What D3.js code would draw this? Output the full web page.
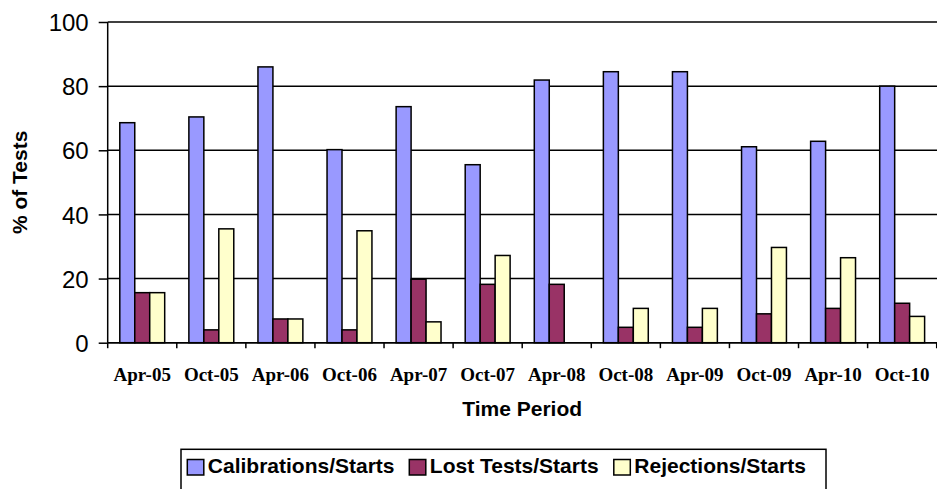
<!DOCTYPE html>
<html>
<head>
<meta charset="utf-8">
<script src="https://cdn.jsdelivr.net/npm/d3@7/dist/d3.min.js"></script>
<style>
  html, body { margin: 0; padding: 0; background: #fff; }
  svg { display: block; }
</style>
</head>
<body>
<svg id="chart" width="937" height="489"></svg>
<script>
const categories = ["Apr-05","Oct-05","Apr-06","Oct-06","Apr-07","Oct-07","Apr-08","Oct-08","Apr-09","Oct-09","Apr-10","Oct-10"];
const seriesNames = ["Calibrations/Starts","Lost Tests/Starts","Rejections/Starts"];
const calibrations = [68.6, 70.4, 86.0, 60.2, 73.6, 55.5, 81.9, 84.5, 84.5, 61.1, 62.8, 80.0];
const lostTests    = [15.6, 4.0, 7.4, 4.0, 19.8, 18.2, 18.2, 4.8, 4.8, 9.0, 10.7, 12.3];
const rejections   = [15.6, 35.5, 7.4, 34.9, 6.5, 27.2, 0, 10.7, 10.7, 29.7, 26.5, 8.2];
const yTicks = [0, 20, 40, 60, 80, 100];
const colors = ["#9999FF", "#993366", "#FFFFCC"];

const seriesValues = [calibrations, lostTests, rejections];

(function () {
const svg = d3.select("#chart");
const pLeft = 107.7, pRight = 936.7, pTop = 22, pBottom = 342.7;

const y = d3.scaleLinear().domain([0, 100]).range([pBottom, pTop]);
const x0 = d3.scaleBand().domain(categories).range([pLeft, pRight]).paddingInner(0.35).paddingOuter(0.175);
const x1 = d3.scaleBand().domain(seriesNames).range([0, x0.bandwidth()]);
const xEdge = d3.scaleLinear().domain([0, categories.length]).range([pLeft, pRight]);

// gridlines
svg.append("g").selectAll("line").data(yTicks).join("line")
  .attr("x1", pLeft).attr("x2", 937)
  .attr("y1", d => y(d)).attr("y2", d => y(d))
  .attr("stroke", "#000").attr("stroke-width", 1.5);

// bars
const groups = svg.append("g").selectAll("g").data(categories).join("g")
  .attr("transform", d => `translate(${x0(d)},0)`);
groups.selectAll("rect")
  .data((c, i) => seriesNames.map((s, k) => ({ s, k, v: seriesValues[k][i] })).filter(d => d.v > 0))
  .join("rect")
  .attr("x", d => x1(d.s))
  .attr("width", x1.bandwidth())
  .attr("y", d => y(d.v))
  .attr("height", d => y(0) - y(d.v))
  .attr("fill", d => colors[d.k])
  .attr("stroke", "#000").attr("stroke-width", 1.5);

// y axis
const yAxis = svg.append("g").attr("transform", `translate(${pLeft},0)`)
  .call(d3.axisLeft(y).tickValues(yTicks).tickSize(9).tickPadding(10).tickFormat(d3.format("d")));
yAxis.select(".domain").attr("stroke", "#000").attr("stroke-width", 1.5).attr("d", `M0,${pTop}V${pBottom}`);
yAxis.selectAll(".tick line").attr("stroke", "#000").attr("stroke-width", 1.5);
yAxis.selectAll("text").attr("font-family", "Liberation Sans, Arial, sans-serif").attr("font-size", 24).attr("fill", "#000").attr("dy", "0.36em");

// x axis line + boundary ticks
svg.append("line").attr("x1", pLeft).attr("x2", 937).attr("y1", pBottom).attr("y2", pBottom)
  .attr("stroke", "#000").attr("stroke-width", 1.5);
svg.append("g").selectAll("line").data(d3.range(categories.length + 1)).join("line")
  .attr("x1", d => xEdge(d)).attr("x2", d => xEdge(d))
  .attr("y1", pBottom).attr("y2", pBottom + 5.5)
  .attr("stroke", "#000").attr("stroke-width", 1.5);

// x labels
svg.append("g").selectAll("text").data(categories).join("text")
  .attr("x", d => x0(d) + x0.bandwidth() / 2)
  .attr("y", 381)
  .attr("text-anchor", "middle")
  .attr("font-family", "Liberation Serif, Times New Roman, serif")
  .attr("font-weight", "bold")
  .attr("font-size", 19)
  .attr("fill", "#000")
  .text(d => d);

// axis titles
svg.append("text")
  .attr("x", (pLeft + pRight) / 2).attr("y", 415.5)
  .attr("text-anchor", "middle")
  .attr("font-family", "Liberation Sans, Arial, sans-serif")
  .attr("font-weight", "bold").attr("font-size", 21)
  .text("Time Period");

svg.append("text")
  .attr("transform", `translate(26.5,${(pTop + pBottom) / 2}) rotate(-90)`)
  .attr("text-anchor", "middle")
  .attr("font-family", "Liberation Sans, Arial, sans-serif")
  .attr("font-weight", "bold").attr("font-size", 21)
  .text("% of Tests");

// legend
const legend = svg.append("g");
legend.append("rect")
  .attr("x", 181).attr("y", 449.3).attr("width", 645).attr("height", 60)
  .attr("fill", "#fff").attr("stroke", "#000").attr("stroke-width", 1.5);
const legendX = [187.3, 409.3, 613.8];
const items = legend.selectAll("g.item").data(seriesNames).join("g").attr("class", "item")
  .attr("transform", (d, i) => `translate(${legendX[i]},0)`);
items.append("rect")
  .attr("x", 0).attr("y", 459.5).attr("width", 16.5).attr("height", 15.5)
  .attr("fill", (d, i) => colors[i]).attr("stroke", "#000").attr("stroke-width", 1.5);
items.append("text")
  .attr("x", 20.5).attr("y", 473.3)
  .attr("font-family", "Liberation Sans, Arial, sans-serif")
  .attr("font-weight", "bold").attr("font-size", 21)
  .text(d => d);
})();
</script>
</body>
</html>
